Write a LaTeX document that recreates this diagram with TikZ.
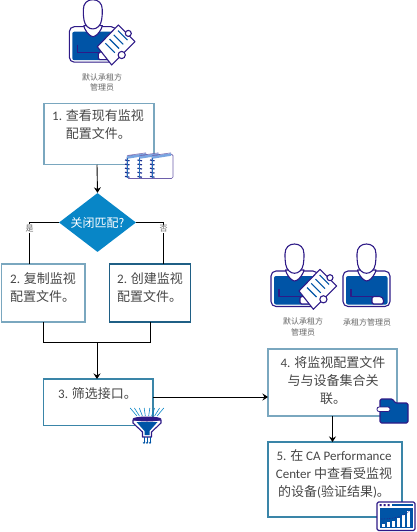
\documentclass[tikz,border=0pt]{standalone}
\usepackage{fontspec}
\setmainfont{Noto Sans CJK SC}
\newfontfamily\latinfont{Carlito}
\usetikzlibrary{positioning,arrows.meta,shapes.geometric,calc}
\definecolor{iconpurple}{RGB}{46,26,135}
\definecolor{iconblue}{RGB}{0,84,166}
\definecolor{iconlight}{RGB}{120,165,225}
\definecolor{diamondblue}{RGB}{8,134,199}
\definecolor{boxpale}{RGB}{122,167,191}
\definecolor{boxmid}{RGB}{58,133,168}
\definecolor{boxdark}{RGB}{31,95,133}
\definecolor{textgray}{RGB}{70,70,70}
\definecolor{smallgray}{RGB}{100,100,100}
\tikzset{
  step-box/.style={draw=boxpale, line width=1.2pt, fill=white, inner sep=0pt, outer sep=0pt},
  step-text/.style={font=\fontsize{13}{18}\selectfont, color=textgray, align=left, inner sep=0pt},
  step-center/.style={step-text, align=center},
  small-label/.style={font=\fontsize{8}{10.5}\selectfont, color=smallgray, align=center, inner sep=0pt},
  branch-label/.style={small-label, fill=white, inner sep=1pt},
  flow-line/.style={line width=0.9pt, draw=black},
  flow-arrow/.style={flow-line, -{Stealth[length=5.5pt, width=7pt]}},
  icon-line/.style={draw=iconpurple, line width=1.1pt, line join=round},
  person-icon/.pic={
    \draw[icon-line, fill=white, rounded corners=5pt] (0,0) rectangle (47,35.5);
    \fill[iconblue, rounded corners=2pt] (3,5) rectangle (44.5,33.5);
    \draw[icon-line] (8,18) -- (8,25.5) -- (30,25.5);
    \draw[icon-line, fill=white] (14.5,-1) -- (15.5,2) .. controls (18,7) and (21,9.5) .. (23.7,10)
      .. controls (26.5,9.5) and (29.5,7) .. (32,2) -- (33,-1) -- cycle;
    \draw[icon-line, fill=white] (14,-17) .. controls (14,-23.5) and (18,-27) .. (23.5,-27)
      .. controls (29,-27) and (33,-23.5) .. (33,-17) .. controls (33,-9) and (32.5,-3) .. (29,0)
      .. controls (26,3) and (21,3) .. (18,0) .. controls (14.5,-3) and (14,-9) .. cycle;
    \draw[icon-line, fill=white, rounded corners=1.5pt] (29,25.5) -- (38,25.5) -- (40.5,28) -- (40.5,33) -- (29,33) -- cycle;
  },
  clip-board/.pic={
    \draw[icon-line, fill=white] (28,20) -- (49,-1.7) -- (65.7,15) -- (42.4,38.3) -- cycle;
    \draw[icon-line, fill=white] (59,6.7) circle (3);
    \draw[icon-line, fill=white] (52.4,28.3) circle (3.6);
    \foreach \k in {0,1,2,3}
      \draw[iconblue, line width=1.1pt] ({36+4.2*\k},{14.5-4.2*\k+2}) -- ++(9.5,9.5);
  },
  note-book/.pic={
    \draw[iconpurple!70, line width=0.7pt, fill=white, rounded corners=1.5pt] (0,3) -- (21,1) -- (21,25.5) -- (0,25.5) -- cycle;
    \draw[iconlight, line width=2.6pt] (0,4.5) -- (19,1.5);
    \draw[iconpurple!70, line width=0.5pt] (0,2.5) -- (19,-0.2);
    \foreach \k in {0,1,2,3,4}
      \draw[iconpurple!60!iconblue, line width=1.2pt] (-2,{7+4.1*\k}) -- (2.5,{7.8+4.1*\k});
    \draw[iconblue!70!iconlight, line width=0.8pt] (0,5) -- (0,25);
  },
  folder-icon/.pic={
    \draw[icon-line, fill=iconblue, rounded corners=1.5pt] (3,0) -- (16,0) -- (18,4) -- (31,4) -- (31,24) -- (3,24) -- cycle;
    \draw[icon-line, line width=0.8pt, fill=white, rounded corners=2pt] (0,8) rectangle (13,12.5);
  },
  chart-icon/.pic={
    \draw[icon-line, fill=white, rounded corners=1.5pt] (0,0) rectangle (38,28.5);
    \fill[iconblue] (2.5,6) rectangle (35.5,26);
    \fill[iconpurple] (2.5,2) rectangle (4.5,4) (6.5,2) rectangle (8.5,4) (10.5,2) rectangle (12.5,4);
    \fill[iconblue] (15,2) rectangle (35.5,4);
    \foreach \k/\h in {0/3,1/5,2/6,3/9,4/12,5/16}
      \fill[white] ({5+5*\k},25) rectangle ++(3.4,-\h);
    \draw[iconpurple, densely dotted, line width=0.6pt] (4,17) .. controls (18,17) and (28,14) .. (35,7);
  },
  funnel-icon/.pic={
    \foreach \a in {-24,-18,-11,-4,4,11,18,24}
      \draw[diamondblue, line width=0.6pt] ({\a*0.42},8) -- ({\a*0.7},0);
    \draw[icon-line, fill=white] (-14,12) -- (14,12) -- (14,15) -- (4.5,24) -- (4.5,29) -- (-4.5,29) -- (-4.5,24) -- (-14,15) -- cycle;
    \fill[iconblue] (-10.5,14) -- (10.5,14) -- (2.5,23) -- (2.5,27) -- (-2.5,27) -- (-2.5,23) -- cycle;
    \fill[iconpurple] (0,11) ellipse (14.5 and 2.5);
    \foreach \a in {-3,0,3}
      \draw[iconblue, line width=0.6pt, -{Stealth[length=2pt, width=2.5pt]}] (\a,29) -- (\a,36);
  }
}

\begin{document}
\begin{tikzpicture}[x=1pt, y=-1pt]
\useasboundingbox (0,0) rectangle (416,532);

% Step boxes
\node[step-box, minimum width=110pt, minimum height=61.5pt] (viewbox) at (99,134) {};
\node[diamond, aspect=1.3, fill=diamondblue, inner sep=0pt, minimum width=77pt, minimum height=59pt,
  text=white, font=\fontsize{12}{14}\selectfont] (matchnode) at (97.5,222.5) {关闭匹配?};
\node[step-box, minimum width=83.5pt, minimum height=58pt] (copybox) at (43.25,293) {};
\node[step-box, draw=boxdark, minimum width=81pt, minimum height=58pt] (createbox) at (150,293) {};
\node[step-box, draw=boxmid, minimum width=109.5pt, minimum height=46.5pt] (filterbox) at (98.25,402.25) {};
\node[step-box, minimum width=129pt, minimum height=67pt] (assocbox) at (332.5,382.5) {};
\node[step-box, draw=boxmid, minimum width=134pt, minimum height=75pt] (checkbox) at (335,479.5) {};

% Step texts
\node[step-text, anchor=north west] (viewtext) at (52,109) {{\latinfont 1.} 查看现有监视\\\phantom{\latinfont 1. }配置文件。};
\node[step-text, anchor=north west] (copytext) at (10,272) {{\latinfont 2.} 复制监视\\配置文件。};
\node[step-text, anchor=north west] (createtext) at (117,272) {{\latinfont 2.} 创建监视\\配置文件。};
\node[step-text, anchor=north west] (filtertext) at (58,387) {{\latinfont 3.} 筛选接口。};
\node[step-center] (assoctext) at (333,380.5) {{\latinfont 4.} 将监视配置文件\\与与设备集合关\\联。};
\node[step-center] (checktext) at (334,474) {{\latinfont 5.} 在 {\latinfont CA Performance}\\{\latinfont Center} 中查看受监视\\的设备{\latinfont (}验证结果{\latinfont )}。};

% Connectors
\coordinate (yesdrop) at (29.5,264);
\coordinate (nodrop) at (163.5,264);
\coordinate (merge) at (97,342);
\coordinate (associn) at (268,397);
\coordinate (viewout) at (97,164.75);
\draw[flow-arrow] (viewout) -- (matchnode.north);
\draw[flow-line] (matchnode.west) -| (yesdrop);
\draw[flow-line] (matchnode.east) -| (nodrop);
\draw[flow-line] (copybox.south) |- (merge);
\draw[flow-line] (createbox.south) |- (merge);
\draw[flow-arrow] (merge) -- (merge |- filterbox.north);
\draw[flow-arrow] (filterbox.east |- associn) -- (associn);
\draw[flow-arrow] (assocbox.south) -- (assocbox.south |- checkbox.north);

% Branch labels
\node[branch-label] (yeslabel) at (29.5,228.5) {是};
\node[branch-label] (nolabel) at (163.5,229) {否};

% Person icons
\pic at (69.3,26.7) {person-icon};
\pic at (69.3,26.7) {clip-board};
\pic at (271,271) {person-icon};
\pic at (271,271) {clip-board};
\pic at (343,271) {person-icon};

% Person labels
\node[small-label] (toplabel) at (102,82.5) {默认承租方\\管理员};
\node[small-label] (leftlabel) at (303,327) {默认承租方\\管理员};
\node[small-label] (rightlabel) at (367,322) {承租方管理员};

% Small icons
\foreach \nx in {127,139.5,152}
  \pic at (\nx,153) {note-book};
\pic at (147,408) {funnel-icon};
\pic at (377,399) {folder-icon};
\pic at (377,502) {chart-icon};
\end{tikzpicture}
\end{document}
